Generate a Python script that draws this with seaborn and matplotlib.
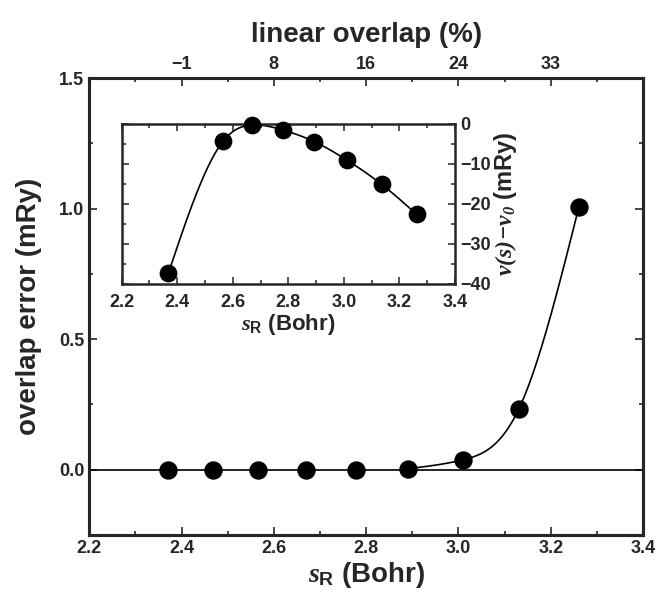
import numpy as np
import pandas as pd
import matplotlib
matplotlib.use("Agg")
import matplotlib.pyplot as plt
from matplotlib.ticker import MultipleLocator
import seaborn as sns

# ---- data ----
s_main = [2.371, 2.469, 2.566, 2.670, 2.778, 2.891, 3.010, 3.131, 3.261]
err_main = [0.0, 0.0, 0.0, 0.0, 0.0, 0.004, 0.038, 0.233, 1.006]

s_inset = [2.368, 2.566, 2.670, 2.780, 2.893, 3.010, 3.136, 3.262]
v_inset = [-37.3, -4.2, -0.25, -1.5, -4.4, -9.0, -15.1, -22.6]

top_tick_pos = [2.4, 2.6, 2.8, 3.0, 3.2]
top_tick_labels = ["\u22121", "8", "16", "24", "33"]


def natural_spline(x, y, xs):
    x = np.asarray(x, float); y = np.asarray(y, float)
    n = len(x); h = np.diff(x)
    A = np.zeros((n, n)); r = np.zeros(n)
    A[0, 0] = A[-1, -1] = 1
    for i in range(1, n - 1):
        A[i, i - 1] = h[i - 1]; A[i, i] = 2 * (h[i - 1] + h[i]); A[i, i + 1] = h[i]
        r[i] = 3 * ((y[i + 1] - y[i]) / h[i] - (y[i] - y[i - 1]) / h[i - 1])
    c = np.linalg.solve(A, r)
    b = (y[1:] - y[:-1]) / h - h * (2 * c[:-1] + c[1:]) / 3
    d = (c[1:] - c[:-1]) / (3 * h)
    idx = np.clip(np.searchsorted(x, xs) - 1, 0, n - 2)
    dx = xs - x[idx]
    return y[idx] + b[idx] * dx + c[idx] * dx ** 2 + d[idx] * dx ** 3


sns.set_style("ticks")
plt.rcParams['font.family'] = ['Liberation Sans', 'DejaVu Sans']
plt.rcParams['font.weight'] = 'bold'
plt.rcParams['mathtext.fontset'] = 'custom'
plt.rcParams['mathtext.it'] = 'Liberation Serif:italic'
plt.rcParams['mathtext.rm'] = 'Liberation Serif:italic'
plt.rcParams['mathtext.bf'] = 'Liberation Sans:bold'

fig = plt.figure(figsize=(6.59, 5.95), dpi=100)
ax = fig.add_axes([0.1355, 0.1008, 0.8402, 0.768])

# main curve
df_main = pd.DataFrame({"s": s_main, "err": err_main})
ax.axhline(0, color="black", lw=1.2, zorder=1)
fit_x = np.array(s_main[5:])
xs = np.linspace(fit_x[0], fit_x[-1], 200)
ys = natural_spline(fit_x, np.array(err_main[5:]), xs)
sns.lineplot(x=xs, y=ys, ax=ax, color="black", lw=1.2, zorder=2)
sns.scatterplot(data=df_main, x="s", y="err", ax=ax, color="black", s=150,
                edgecolor="black", zorder=3)

ax.set_xlim(2.2, 3.4)
ax.set_ylim(-0.25, 1.5)
ax.xaxis.set_minor_locator(MultipleLocator(0.1))
ax.yaxis.set_minor_locator(MultipleLocator(0.25))
ax.set_xticks([2.2, 2.4, 2.6, 2.8, 3.0, 3.2, 3.4])
ax.set_xticklabels(["2.2", "2.4", "2.6", "2.8", "3.0", "3.2", "3.4"])
ax.set_yticks([0.0, 0.5, 1.0, 1.5])
ax.set_yticklabels(["0.0", "0.5", "1.0", "1.5"])
ax.tick_params(which="both", direction="in", top=False, right=True, labelsize=13, width=1.2)
ax.tick_params(which="major", length=6)
ax.tick_params(which="minor", length=3)
for sp in ax.spines.values():
    sp.set_linewidth(2.2)
ax.set_xlabel(r"$s_{\mathbf{R}}$ (Bohr)", fontsize=20, fontweight="bold", labelpad=2)
ax.set_ylabel("overlap error (mRy)", fontsize=20, fontweight="bold", labelpad=12)

# top axis
axt = ax.twiny()
axt.set_xlim(ax.get_xlim())
axt.set_xticks(top_tick_pos)
axt.set_xticklabels(top_tick_labels)
axt.xaxis.set_minor_locator(MultipleLocator(0.1))
axt.tick_params(which="both", direction="in", labelsize=13, width=1.2)
axt.tick_params(which="major", length=6)
axt.tick_params(which="minor", length=3)
axt.set_xlabel("linear overlap (%)", fontsize=20, fontweight="bold", labelpad=10)
for sp in axt.spines.values():
    sp.set_linewidth(2.2)

# inset
axi = fig.add_axes([0.1847, 0.5227, 0.5058, 0.2689])
df_in = pd.DataFrame({"s": s_inset, "v": v_inset})
xs2 = np.linspace(s_inset[0], s_inset[-1], 300)
ys2 = natural_spline(s_inset, v_inset, xs2)
sns.lineplot(x=xs2, y=ys2, ax=axi, color="black", lw=1.2, zorder=2)
sns.scatterplot(data=df_in, x="s", y="v", ax=axi, color="black", s=140,
                edgecolor="black", zorder=3, clip_on=False)
axi.set_xlim(2.2, 3.4)
axi.set_ylim(-40, 0)
axi.xaxis.set_minor_locator(MultipleLocator(0.1))
axi.set_xticks([2.2, 2.4, 2.6, 2.8, 3.0, 3.2, 3.4])
axi.set_xticklabels(["2.2", "2.4", "2.6", "2.8", "3.0", "3.2", "3.4"])
axi.set_yticks([0, -10, -20, -30, -40])
axi.set_yticklabels(["0", "\u221210", "\u221220", "\u221230", "\u221240"])
axi.yaxis.set_minor_locator(MultipleLocator(5))
axi.yaxis.tick_right()
axi.yaxis.set_label_position("right")
axi.tick_params(which="both", direction="in", top=True, left=True, right=True,
                labelsize=13, width=1.1)
axi.tick_params(which="major", length=5)
axi.tick_params(which="minor", length=3)
axi.tick_params(axis="x", pad=7)
for sp in axi.spines.values():
    sp.set_linewidth(1.8)
axi.set_xlabel(r"$s_{\mathbf{R}}$ (Bohr)", fontsize=16, fontweight="bold", labelpad=1)
axi.set_ylabel(r"$v(s)\!-\!v_0$ (mRy)", fontsize=17, fontweight="bold", labelpad=1)

fig.savefig("out.png", dpi=100)
